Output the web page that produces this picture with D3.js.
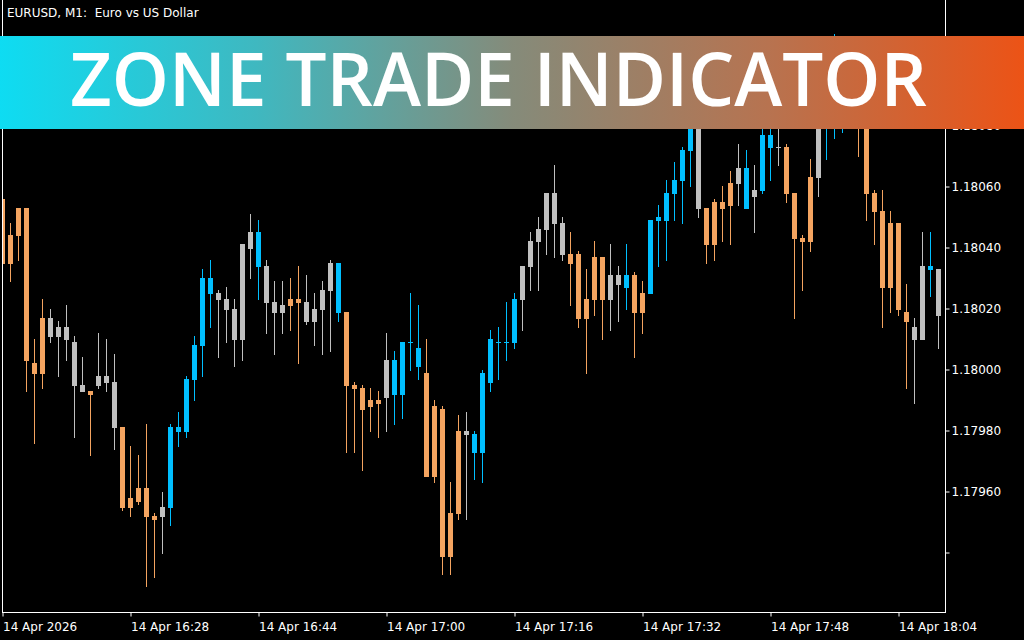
<!DOCTYPE html>
<html>
<head>
<meta charset="utf-8">
<script src="https://cdn.jsdelivr.net/npm/d3@7"></script>
<style>
  html, body { margin: 0; padding: 0; background: #000; }
  svg { display: block; }
</style>
</head>
<body>
<svg id="chart" width="1024" height="640"></svg>
<script>
// ---------- DATA (EURUSD M1) ----------
const openP = [1.18056,1.18035,1.18044,1.18053,1.18002,1.17999,1.18017,1.18011,1.18014,1.18009,
 1.17995,1.17993,1.17995,1.17998,1.17996,1.17981,1.17955,1.17957,1.17961,1.17952,
 1.17952,1.17955,1.17980,1.17980,1.17997,1.18008,1.18030,1.18025,1.18023,1.18020,
 1.18010,1.18040,1.18045,1.18034,1.18022,1.18019,1.18021,1.18023,1.18022,1.18016,
 1.18020,1.18026,1.18035,1.18019,1.17995,1.17994,1.17988,1.17990,1.17991,1.18003,
 1.17992,1.18009,1.18007,1.17999,1.17965,1.17987,1.17939,1.17953,1.17980,1.17979,
 1.17973,1.17996,1.18009,1.18009,1.18009,1.18023,1.18034,1.18042,1.18046,1.18058,
 1.18048,1.18035,1.18038,1.18017,1.18023,1.18037,1.18023,1.18031,1.18027,1.18031,
 1.18019,1.18025,1.18049,1.18049,1.18058,1.18062,1.18072,1.18083,1.18053,1.18041,
 1.18055,1.18054,1.18061,1.18066,1.18057,1.18059,1.18077,1.18073,1.18073,1.18058,
 1.18043,1.18042,1.18063,1.18086,1.18092,1.18100,1.18104,1.18099,1.18090,1.18058,
 1.18052,1.18027,1.18048,1.18019,1.18014,1.18010,1.18034,1.18033];
const highP = [1.18056,1.18048,1.18053,1.18053,1.18010,1.18023,1.18020,1.18016,1.18021,1.18011,
 1.18004,1.17993,1.18012,1.18010,1.18005,1.17981,1.17975,1.17972,1.17982,1.17953,
 1.17960,1.17982,1.17986,1.17998,1.18011,1.18033,1.18036,1.18026,1.18027,1.18023,
 1.18041,1.18051,1.18049,1.18036,1.18029,1.18029,1.18030,1.18034,1.18031,1.18025,
 1.18029,1.18036,1.18035,1.18019,1.17996,1.17995,1.17994,1.17993,1.18012,1.18006,
 1.18009,1.18025,1.18021,1.18010,1.17990,1.17988,1.17963,1.17985,1.17986,1.17980,
 1.18000,1.18013,1.18014,1.18022,1.18025,1.18034,1.18045,1.18050,1.18058,1.18067,
 1.18050,1.18045,1.18039,1.18033,1.18042,1.18037,1.18041,1.18034,1.18041,1.18032,
 1.18029,1.18049,1.18054,1.18062,1.18068,1.18073,1.18082,1.18085,1.18053,1.18056,
 1.18060,1.18065,1.18074,1.18072,1.18067,1.18079,1.18082,1.18083,1.18074,1.18058,
 1.18044,1.18069,1.18088,1.18095,1.18110,1.18106,1.18107,1.18102,1.18092,1.18059,
 1.18059,1.18052,1.18048,1.18028,1.18017,1.18045,1.18045,1.18033];
const lowP = [1.18035,1.18029,1.18036,1.17993,1.17976,1.17994,1.18009,1.17998,1.18003,1.17978,
 1.17993,1.17972,1.17994,1.17993,1.17974,1.17954,1.17952,1.17956,1.17929,1.17932,
 1.17940,1.17949,1.17975,1.17978,1.17990,1.17998,1.18014,1.18004,1.18009,1.18001,
 1.18003,1.18030,1.18023,1.18012,1.18005,1.18012,1.18013,1.18002,1.18015,1.18008,
 1.18005,1.18006,1.18016,1.17973,1.17973,1.17967,1.17980,1.17978,1.17980,1.17982,
 1.17984,1.18000,1.17997,1.17965,1.17963,1.17933,1.17933,1.17951,1.17951,1.17964,
 1.17963,1.17993,1.17997,1.18003,1.18007,1.18013,1.18026,1.18026,1.18038,1.18037,
 1.18036,1.18021,1.18014,1.17999,1.18018,1.18010,1.18013,1.18016,1.18020,1.18004,
 1.18012,1.18025,1.18034,1.18036,1.18049,1.18048,1.18060,1.18050,1.18035,1.18036,
 1.18042,1.18041,1.18054,1.18053,1.18045,1.18058,1.18062,1.18067,1.18055,1.18017,
 1.18026,1.18039,1.18057,1.18069,1.18076,1.18078,1.18088,1.18070,1.18049,1.18041,
 1.18014,1.18019,1.18018,1.17994,1.17989,1.18010,1.18024,1.18007];
const closeP = [1.18035,1.18044,1.18053,1.18003,1.17999,1.18017,1.18011,1.18014,1.18010,1.17995,
 1.17993,1.17992,1.17998,1.17996,1.17981,1.17955,1.17958,1.17961,1.17952,1.17951,
 1.17955,1.17981,1.17981,1.17997,1.18008,1.18030,1.18025,1.18023,1.18020,1.18010,
 1.18041,1.18045,1.18034,1.18022,1.18019,1.18021,1.18023,1.18022,1.18016,1.18020,
 1.18026,1.18035,1.18019,1.17995,1.17994,1.17987,1.17990,1.17989,1.18003,1.17992,
 1.18009,1.18009,1.18001,1.17965,1.17988,1.17939,1.17953,1.17980,1.17979,1.17973,
 1.17999,1.18010,1.18009,1.18009,1.18023,1.18034,1.18042,1.18046,1.18058,1.18048,
 1.18038,1.18038,1.18017,1.18023,1.18037,1.18023,1.18031,1.18028,1.18031,1.18019,
 1.18025,1.18049,1.18050,1.18058,1.18062,1.18072,1.18081,1.18053,1.18041,1.18055,
 1.18053,1.18061,1.18066,1.18053,1.18059,1.18077,1.18073,1.18073,1.18058,1.18043,
 1.18042,1.18063,1.18087,1.18092,1.18101,1.18104,1.18099,1.18090,1.18058,1.18052,
 1.18027,1.18048,1.18020,1.18016,1.18010,1.18034,1.18033,1.18018];
// zone per candle: S = sell zone (orange), B = buy zone (blue), N = neutral (silver)
const zones = ("SSSSSSNNNN" + "NSNNNSSSSS" + "NBBBBBBNNN" + "NNBNNNSSNN" + "NNBSSSSSNB" +
               "BBBSSSSSNB" + "BBBBBNNNNN" + "NSSSSSNNBS" + "SBBBBBBNSS" + "SSNBNBBNSS" +
               "SSNBBBBSSS" + "SSSSNNBN").split("");
const timeTickIndex = [0, 16, 32, 48, 64, 80, 96, 112];
const timeTickLabels = ["14 Apr 2026", "14 Apr 16:28", "14 Apr 16:44", "14 Apr 17:00",
                        "14 Apr 17:16", "14 Apr 17:32", "14 Apr 17:48", "14 Apr 18:04"];
const priceTicks = [1.17940, 1.17960, 1.17980, 1.18000, 1.18020, 1.18040, 1.18060, 1.18080];
const priceTickLabels = ["", "1.17960", "1.17980", "1.18000", "1.18020", "1.18040", "1.18060", "1.18080"];
const chartTitle = "EURUSD, M1:  Euro vs US Dollar";
const bannerText = "ZONE TRADE INDICATOR";

// ---------- DRAW ----------
const svg = d3.select("#chart");
const zoneColor = { S: "#F4A460", B: "#00BFFF", N: "#C0C0C0" };

const x = d3.scaleLinear().domain([0, openP.length - 1]).range([2.5, 938.5]);
const y = d3.scaleLinear().domain([1.17940, 1.18080]).range([552.5, 125.5]);

svg.append("rect").attr("width", 1024).attr("height", 640).attr("fill", "#000");

svg.append("defs").append("clipPath").attr("id", "plot")
  .append("rect").attr("x", 3).attr("y", 0).attr("width", 942).attr("height", 612);

const candles = openP.map((o, i) => ({ i, o, h: highP[i], l: lowP[i], c: closeP[i], z: zones[i] }));

const g = svg.append("g").attr("clip-path", "url(#plot)");
const cg = g.selectAll("g.candle").data(candles).join("g").attr("class", "candle");

cg.append("rect")
  .attr("x", d => x(d.i) - 0.5)
  .attr("y", d => Math.round(y(d.h)))
  .attr("width", 1)
  .attr("height", d => Math.round(y(d.l)) - Math.round(y(d.h)) + 1)
  .attr("fill", d => zoneColor[d.z]);

cg.append("rect")
  .attr("x", d => x(d.i) - 2.5)
  .attr("y", d => Math.round(y(Math.max(d.o, d.c))))
  .attr("width", 5)
  .attr("height", d => Math.round(y(Math.min(d.o, d.c))) - Math.round(y(Math.max(d.o, d.c))) + 1)
  .attr("fill", d => zoneColor[d.z]);

// frame
svg.append("line").attr("x1", 2.5).attr("x2", 2.5).attr("y1", 0).attr("y2", 613)
  .attr("stroke", "#fff").attr("stroke-width", 1);
svg.append("line").attr("x1", 945.5).attr("x2", 945.5).attr("y1", 0).attr("y2", 613)
  .attr("stroke", "#fff").attr("stroke-width", 1);
svg.append("line").attr("x1", 2).attr("x2", 946).attr("y1", 612.5).attr("y2", 612.5)
  .attr("stroke", "#fff").attr("stroke-width", 1);

// price axis
const yAxis = d3.axisRight(y).tickValues(priceTicks).tickSize(4).tickPadding(2)
  .tickFormat((d, i) => priceTickLabels[i]);
const ya = svg.append("g").attr("transform", "translate(945.5,0)").call(yAxis);
ya.select(".domain").remove();
ya.selectAll(".tick line").attr("stroke", "#fff").attr("stroke-width", 1);
ya.selectAll(".tick text").attr("fill", "#fff")
  .style("font-family", "'DejaVu Sans', sans-serif").style("font-size", "12px");

// time axis
const xAxis = d3.axisBottom(x).tickValues(timeTickIndex).tickSize(4)
  .tickFormat((d, i) => timeTickLabels[i]);
const xa = svg.append("g").attr("transform", "translate(0,612.5)").call(xAxis);
xa.select(".domain").remove();
xa.selectAll(".tick line").attr("stroke", "#fff").attr("stroke-width", 1);
xa.selectAll(".tick text").attr("fill", "#fff")
  .attr("text-anchor", "start").attr("x", 0).attr("y", 18).attr("dy", 0)
  .style("font-family", "'DejaVu Sans', sans-serif").style("font-size", "12px");

// chart caption
svg.append("text").attr("x", 7).attr("y", 17).attr("fill", "#fff")
  .style("font-family", "'DejaVu Sans', sans-serif").style("font-size", "12px")
  .style("white-space", "pre").text(chartTitle);

// banner
const grad = svg.select("defs").append("linearGradient").attr("id", "bannerGrad")
  .attr("x1", "0%").attr("x2", "100%").attr("y1", "0%").attr("y2", "0%");
grad.append("stop").attr("offset", "0%").attr("stop-color", "#0edcf2");
grad.append("stop").attr("offset", "25%").attr("stop-color", "#3fb8c0");
grad.append("stop").attr("offset", "50%").attr("stop-color", "#858b7a");
grad.append("stop").attr("offset", "75%").attr("stop-color", "#b77350");
grad.append("stop").attr("offset", "100%").attr("stop-color", "#ec5316");

svg.append("rect").attr("x", 0).attr("y", 36).attr("width", 1024).attr("height", 93)
  .attr("fill", "url(#bannerGrad)");
svg.append("text").attr("x", 70).attr("y", 106).attr("fill", "#fff")
  .attr("textLength", 857).attr("lengthAdjust", "spacingAndGlyphs")
  .style("font-family", "'Open Sans', sans-serif").style("font-weight", 600)
  .style("font-size", "75px").text(bannerText);
</script>
</body>
</html>
